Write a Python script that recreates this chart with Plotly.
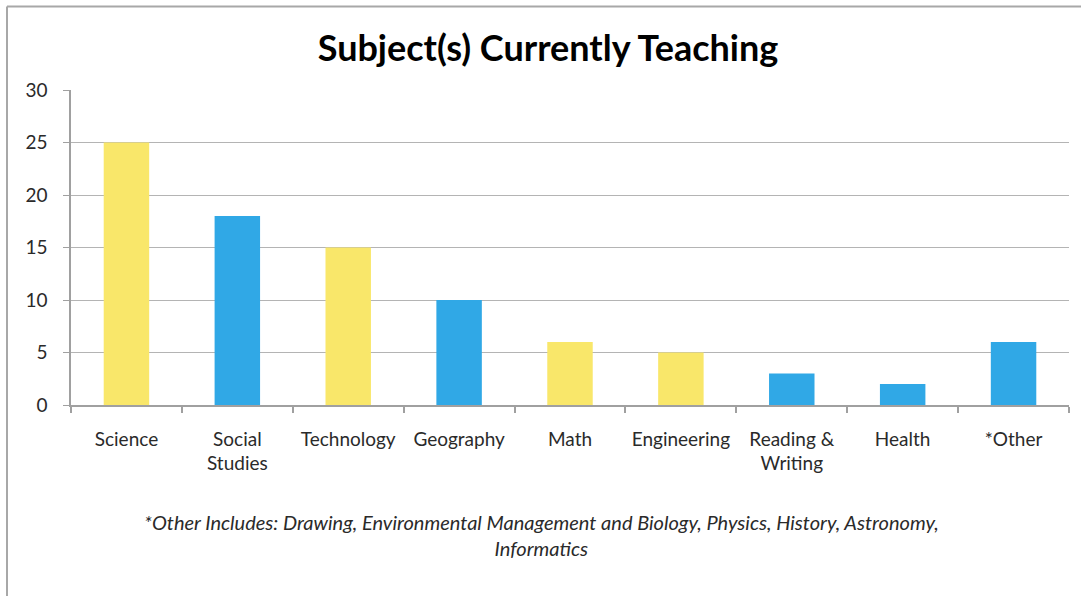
import plotly.graph_objects as go

categories = ["Science", "Social<br>Studies", "Technology", "Geography", "Math",
              "Engineering", "Reading &<br>Writing", "Health", "*Other"]
values = [25, 18, 15, 10, 6, 5, 3, 2, 6]
bar_colors = ["#F9E76A", "#30A8E6", "#F9E76A", "#30A8E6", "#F9E76A",
              "#F9E76A", "#30A8E6", "#30A8E6", "#30A8E6"]
y_ticks = [0, 5, 10, 15, 20, 25, 30]
footnote = ("*Other Includes: Drawing, Environmental Management and Biology, Physics, History, Astronomy,"
            "<br>Informatics")
title_text = "Subject(s) Currently Teaching"

W, H = 1081, 596
L, R, T, B = 71, 12, 90, 191
pw, ph = W - L - R, H - T - B

fig = go.Figure(go.Bar(x=categories, y=values, marker=dict(color=bar_colors, line_width=0),
                       width=0.41))

fig.update_layout(
    width=W, height=H,
    margin=dict(l=L, r=R, t=T, b=B, autoexpand=False),
    paper_bgcolor="white", plot_bgcolor="white",
    font=dict(family="Lato, Open Sans, sans-serif", size=19, color="#2A2A2A"),
    title=dict(text="<b>" + title_text + "</b>", x=548 / W, xanchor="center",
               y=1 - 48 / H, yanchor="middle", xref="container",
               yref="container", font=dict(size=36, color="#000000")),
    showlegend=False,
    xaxis=dict(showline=True, linecolor="#A0A0A0", linewidth=1.5, ticks="outside",
               tickson="boundaries", ticklen=6, tickcolor="#A0A0A0", tickwidth=1.5,
               showgrid=False, ticklabelstandoff=16,
               tickfont=dict(size=19, color="#2A2A2A")),
    yaxis=dict(range=[0, 30], tickvals=y_ticks, showline=True, linecolor="#A0A0A0",
               linewidth=1.5, ticks="outside", ticklen=6, tickcolor="#A0A0A0",
               showgrid=True, gridcolor="#B4B4B4", gridwidth=1.2, zeroline=False,
               ticklabelstandoff=12, tickfont=dict(size=19, color="#2A2A2A")),
    bargap=0.59,
)

fig.add_annotation(text="<i>" + footnote + "</i>", xref="paper", yref="paper",
                   x=(541 - L) / pw, y=(405 - 535) / ph, xanchor="center", yanchor="middle",
                   showarrow=False, font=dict(size=20, color="#2A2A2A"))

# outer border (top and left)
fig.add_shape(type="line", xref="paper", yref="paper",
              x0=(7 - L) / pw, x1=(W + 5 - L) / pw, y0=(405 - 6.5) / ph, y1=(405 - 6.5) / ph,
              line=dict(color="#A8A8A8", width=2))
fig.add_shape(type="line", xref="paper", yref="paper",
              x0=(7 - L) / pw, x1=(7 - L) / pw, y0=(405 - 6.5) / ph, y1=(405 - H - 5) / ph,
              line=dict(color="#A8A8A8", width=2))

fig.write_html("out.html", config={"displayModeBar": False},
               post_script="document.body.style.margin='0';")
